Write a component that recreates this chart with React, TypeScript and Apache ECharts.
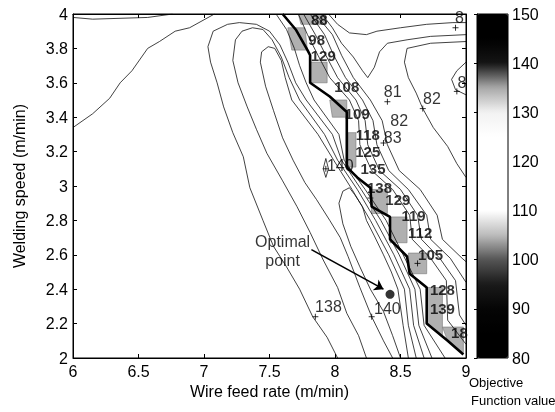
import React, { useEffect, useRef } from "react";
import * as echarts from "echarts";

type P = [number, number];

const xAxisTicks = [6, 6.5, 7, 7.5, 8, 8.5, 9];
const yAxisTicks = [2, 2.2, 2.4, 2.6, 2.8, 3, 3.2, 3.4, 3.6, 3.8, 4];
const colorbarTicks = [80, 90, 100, 110, 120, 130, 140, 150];
const colorbarColors = [
  "#000000", "#000000", "#050505", "#1a1a1a", "#555555", "#bbbbbb", "#ffffff", "#ffffff",
  "#ffffff", "#ffffff", "#f2f2f2", "#a8a8a8", "#151515", "#000000", "#000000",
];

const contourTopLeftA: P[] = [[6.0, 3.34], [6.15, 3.42], [6.28, 3.51], [6.36, 3.6], [6.45, 3.67], [6.57, 3.8], [6.66, 3.84], [6.78, 3.9], [6.89, 3.92], [7.08, 4.0]];
const contourTopLeftB: P[] = [[6.0, 3.98], [6.15, 3.97], [6.57, 3.98], [6.76, 4.0]];
const contour138: P[] = [[8.02, 2.0], [7.94, 2.12], [7.83, 2.24], [7.73, 2.4], [7.63, 2.53], [7.53, 2.65], [7.45, 2.8], [7.35, 2.99], [7.3, 3.17], [7.22, 3.31], [7.15, 3.46], [7.1, 3.6], [7.05, 3.72], [7.03, 3.81], [7.07, 3.9], [7.18, 3.94], [7.27, 3.95], [7.4, 3.94], [7.5, 3.9], [7.58, 3.82], [7.64, 3.72], [7.7, 3.6], [7.78, 3.5], [7.98, 3.3], [8.05, 3.15], [8.2, 2.98], [8.35, 2.8], [8.49, 2.6], [8.61, 2.4], [8.64, 2.19], [8.74, 2.0]];
const contourB: P[] = [[8.24, 2.0], [8.18, 2.13], [8.09, 2.26], [8.02, 2.41], [7.91, 2.57], [7.81, 2.73], [7.71, 2.88], [7.6, 3.03], [7.48, 3.19], [7.4, 3.33], [7.33, 3.46], [7.26, 3.6], [7.22, 3.73], [7.24, 3.85], [7.29, 3.9], [7.37, 3.92], [7.45, 3.91], [7.52, 3.85], [7.59, 3.75], [7.65, 3.63], [7.73, 3.5], [7.92, 3.3], [8.02, 3.15], [8.17, 2.98], [8.31, 2.8], [8.45, 2.6], [8.57, 2.4], [8.6, 2.19], [8.68, 2.0]];
const contourC: P[] = [[8.44, 2.0], [8.37, 2.1], [8.28, 2.24], [8.19, 2.41], [8.1, 2.59], [8.04, 2.7], [7.96, 2.8], [7.86, 2.92], [7.77, 3.02], [7.68, 3.15], [7.6, 3.28], [7.53, 3.44], [7.47, 3.58], [7.43, 3.72], [7.44, 3.78], [7.49, 3.81], [7.54, 3.8], [7.59, 3.73], [7.62, 3.63], [7.67, 3.5], [7.87, 3.3], [7.99, 3.15], [8.13, 2.98], [8.27, 2.8], [8.41, 2.6], [8.53, 2.4], [8.56, 2.19], [8.62, 2.0]];
const contour140: P[] = [[8.5, 2.0], [8.44, 2.13], [8.37, 2.27], [8.27, 2.4], [8.19, 2.53], [8.12, 2.65], [8.06, 2.78], [8.03, 2.9], [8.06, 2.97], [8.11, 2.99], [8.15, 2.95], [8.21, 2.88], [8.24, 2.8], [8.3, 2.71], [8.37, 2.6], [8.43, 2.5], [8.48, 2.4], [8.52, 2.19], [8.56, 2.0]];
const contourRidgeLeft: P[] = [[7.55, 4.0], [7.63, 3.91], [7.69, 3.8], [7.73, 3.7], [7.78, 3.6], [7.84, 3.5], [8.03, 3.3], [8.07, 3.15], [8.23, 2.98], [8.39, 2.8], [8.52, 2.6], [8.65, 2.4], [8.68, 2.19], [8.84, 2.0]];
const contourLoop140: P[] = [[7.93, 3.16], [7.91, 3.1], [7.93, 3.05], [7.95, 3.1], [7.93, 3.16]];
const contourR1: P[] = [[7.72, 4.0], [7.79, 3.88], [7.87, 3.76], [7.96, 3.63], [8.11, 3.5], [8.18, 3.38], [8.19, 3.24], [8.28, 3.09], [8.44, 2.98], [8.57, 2.83], [8.59, 2.69], [8.73, 2.58], [8.85, 2.45], [8.86, 2.22], [9.0, 2.08]];
const contourR2: P[] = [[7.76, 4.0], [7.85, 3.88], [7.93, 3.76], [8.02, 3.63], [8.16, 3.5], [8.23, 3.38], [8.25, 3.24], [8.34, 3.09], [8.5, 2.98], [8.63, 2.83], [8.66, 2.69], [8.8, 2.58], [8.92, 2.45], [8.95, 2.25], [9.0, 2.19]];
const contourR3: P[] = [[7.81, 4.0], [7.92, 3.88], [7.99, 3.76], [8.08, 3.63], [8.21, 3.5], [8.29, 3.38], [8.32, 3.24], [8.41, 3.09], [8.56, 2.98], [8.7, 2.83], [8.73, 2.69], [8.88, 2.58], [9.0, 2.44]];
const contourR4: P[] = [[7.85, 4.0], [7.98, 3.88], [8.05, 3.76], [8.14, 3.63], [8.27, 3.5], [8.36, 3.38], [8.4, 3.24], [8.49, 3.09], [8.65, 2.98], [8.78, 2.83], [8.82, 2.69], [8.97, 2.58], [9.0, 2.56]];
const contour81: P[] = [[7.9, 4.0], [7.98, 3.92], [8.05, 3.83], [8.14, 3.75], [8.21, 3.67], [8.25, 3.63], [8.3, 3.69], [8.34, 3.78], [8.4, 3.83], [8.55, 3.85], [8.73, 3.87], [9.0, 3.88]];
const contourTopRight: P[] = [[7.95, 4.0], [8.02, 3.94], [8.11, 3.89], [8.24, 3.88], [8.32, 3.9], [8.5, 3.92], [8.7, 3.94], [8.9, 3.95], [9.0, 3.95]];
const contour82: P[] = [[9.0, 3.84], [8.73, 3.83], [8.55, 3.8], [8.53, 3.72], [8.56, 3.63], [8.62, 3.54], [8.67, 3.45], [8.75, 3.34], [8.86, 3.23], [8.93, 3.13], [9.0, 3.05]];
const contourEdge: P[] = [[9.0, 3.72], [8.93, 3.67], [8.89, 3.62], [8.92, 3.56], [9.0, 3.53]];

const ridgeEdge: P[] = [[7.6, 4.0], [7.7, 3.91], [7.79, 3.79], [7.81, 3.76], [7.81, 3.6], [7.96, 3.52], [8.09, 3.43], [8.09, 3.11], [8.17, 3.05], [8.27, 2.99], [8.28, 2.88], [8.42, 2.82], [8.42, 2.69], [8.55, 2.59], [8.57, 2.49], [8.7, 2.41], [8.7, 2.2], [8.86, 2.1], [8.98, 2.02]];
const ridgePatches: P[][] = [
  [[7.72, 4.0], [7.93, 4.0], [7.93, 3.94], [7.74, 3.94]],
  [[7.64, 3.92], [7.77, 3.92], [7.79, 3.79], [7.67, 3.79]],
  [[7.81, 3.72], [7.94, 3.72], [7.94, 3.6], [7.81, 3.6]],
  [[7.96, 3.5], [8.09, 3.5], [8.09, 3.4], [7.98, 3.4]],
  [[8.1, 3.31], [8.16, 3.31], [8.16, 3.11], [8.1, 3.11]],
  [[8.27, 2.98], [8.4, 2.98], [8.4, 2.84], [8.28, 2.84]],
  [[8.42, 2.82], [8.55, 2.82], [8.55, 2.67], [8.42, 2.67]],
  [[8.56, 2.61], [8.7, 2.61], [8.7, 2.49], [8.57, 2.49]],
  [[8.7, 2.41], [8.82, 2.41], [8.82, 2.12], [8.7, 2.2]],
  [[8.82, 2.18], [8.98, 2.18], [8.98, 2.03], [8.86, 2.1]],
];

const boldLabels: [number, number, string][] = [
  [7.88, 3.97, "88"], [7.86, 3.85, "98"], [7.91, 3.76, "129"], [8.09, 3.58, "108"], [8.17, 3.42, "109"],
  [8.25, 3.3, "118"], [8.25, 3.2, "125"], [8.29, 3.1, "135"], [8.34, 2.99, "138"], [8.48, 2.92, "129"],
  [8.6, 2.83, "119"], [8.65, 2.73, "112"], [8.73, 2.6, "105"], [8.82, 2.4, "128"], [8.82, 2.29, "139"],
  [8.95, 2.15, "18"],
];
const plainLabels: [number, number, string][] = [
  [8.44, 3.55, "81"], [8.74, 3.51, "82"], [8.49, 3.38, "82"], [8.44, 3.28, "83"], [8.95, 3.98, "8"],
  [8.97, 3.6, "8"], [8.04, 3.12, "140"], [7.95, 2.3, "138"], [8.4, 2.29, "140"],
];
const plusMarks: P[] = [[8.4, 3.49], [8.67, 3.45], [8.92, 3.92], [8.93, 3.55], [7.85, 2.24], [8.28, 2.24], [7.93, 3.1], [8.37, 3.25], [8.27, 2.93], [8.63, 2.55]];
const optimalPoint: P = [8.42, 2.37];
const arrowStart: P = [7.82, 2.63];
const arrowEnd: P = [8.37, 2.4];
const optimalTextAt: P = [7.6, 2.62];

const FONT = "'Liberation Sans', Arial, sans-serif";

export default function App() {
  const ref = useRef<HTMLDivElement>(null);
  useEffect(() => {
    const chart = echarts.init(ref.current!, null, { renderer: "svg" });
    const contours = [contourTopLeftA, contourTopLeftB, contour138, contourB, contourC, contour140, contourRidgeLeft, contourLoop140, contourR1, contourR2, contourR3, contourR4, contour81, contourTopRight, contour82, contourEdge];
    const series: any[] = [];
    series.push({
      type: "custom",
      xAxisIndex: 0,
      yAxisIndex: 0,
      silent: true,
      clip: true,
      data: ridgePatches.map((p) => [p[0][0], p[0][1]]),
      renderItem: (params: any, api: any) => {
        const poly = ridgePatches[params.dataIndex];
        return {
          type: "polygon",
          shape: { points: poly.map((pt) => api.coord(pt)) },
          style: { fill: "#b0b0b0", stroke: "#777", lineWidth: 0.6 },
        };
      },
      z: 1,
    });
    contours.forEach((c) => {
      series.push({
        type: "line",
        xAxisIndex: 0,
        yAxisIndex: 0,
        data: c,
        showSymbol: false,
        silent: true,
        lineStyle: { color: "#111", width: 0.8 },
        z: 2,
      });
    });
    series.push({
      type: "line",
      xAxisIndex: 0,
      yAxisIndex: 0,
      data: ridgeEdge,
      showSymbol: false,
      silent: true,
      lineStyle: { color: "#000", width: 2.6 },
      z: 3,
    });
    series.push({
      type: "scatter",
      xAxisIndex: 0,
      yAxisIndex: 0,
      data: plusMarks,
      symbol: "path://M5,0L5,10M0,5L10,5",
      symbolSize: 6,
      itemStyle: { color: "none", borderColor: "#000", borderWidth: 1 },
      silent: true,
      z: 4,
    });
    series.push({
      type: "scatter",
      xAxisIndex: 0,
      yAxisIndex: 0,
      data: boldLabels.map(([x, y, t]) => ({ value: [x, y], name: t })),
      symbolSize: 1,
      itemStyle: { color: "transparent" },
      silent: true,
      label: { show: true, position: "inside", formatter: "{b}", fontSize: 15, fontWeight: "bold", color: "#000", fontFamily: FONT },
      z: 5,
    });
    series.push({
      type: "scatter",
      xAxisIndex: 0,
      yAxisIndex: 0,
      data: plainLabels.map(([x, y, t]) => ({ value: [x, y], name: t })),
      symbolSize: 1,
      itemStyle: { color: "transparent" },
      silent: true,
      label: { show: true, position: "inside", formatter: "{b}", fontSize: 16, color: "#000", fontFamily: FONT },
      z: 5,
    });
    series.push({
      type: "scatter",
      xAxisIndex: 0,
      yAxisIndex: 0,
      data: [optimalPoint],
      symbol: "circle",
      symbolSize: 9,
      itemStyle: { color: "#000" },
      silent: true,
      markLine: {
        silent: true,
        symbol: ["none", "arrow"],
        symbolSize: 9,
        label: { show: false },
        lineStyle: { color: "#000", width: 1.5, type: "solid" },
        data: [[{ coord: arrowStart }, { coord: arrowEnd }]],
      },
      z: 6,
    });
    series.push({
      type: "scatter",
      xAxisIndex: 0,
      yAxisIndex: 0,
      data: [{ value: optimalTextAt, name: "Optimal\npoint" }],
      symbolSize: 1,
      itemStyle: { color: "transparent" },
      silent: true,
      label: { show: true, position: "inside", formatter: "{b}", fontSize: 16, lineHeight: 19, align: "center", color: "#000", fontFamily: FONT },
      z: 6,
    });
    const dummyIndex = series.length;
    series.push({ type: "scatter", xAxisIndex: 2, yAxisIndex: 2, data: [], silent: true });

    const option: any = {
      animation: false,
      textStyle: { fontFamily: FONT },
      grid: [
        { left: 73, right: 89, top: 14, bottom: 54, show: true, borderColor: "#000", borderWidth: 1, z: 10, backgroundColor: "transparent" },
        { left: 477, width: 31, top: 14, bottom: 54, show: true, borderColor: "#000", borderWidth: 1, z: 10, backgroundColor: "transparent" },
      ],
      xAxis: [
        {
          gridIndex: 0, type: "value", position: "bottom",
          min: xAxisTicks[0], max: xAxisTicks[xAxisTicks.length - 1], interval: xAxisTicks[1] - xAxisTicks[0],
          axisLine: { lineStyle: { color: "#000" } },
          axisTick: { inside: true, length: 4, lineStyle: { color: "#000" } },
          axisLabel: { fontSize: 16, color: "#000", margin: 5, fontFamily: FONT },
          splitLine: { show: false },
          name: "Wire feed rate (m/min)", nameLocation: "middle", nameGap: 21,
          nameTextStyle: { fontSize: 16, color: "#000", fontFamily: FONT },
          z: 10,
        },
        {
          gridIndex: 0, type: "value", position: "top",
          min: xAxisTicks[0], max: xAxisTicks[xAxisTicks.length - 1], interval: xAxisTicks[1] - xAxisTicks[0],
          axisLine: { lineStyle: { color: "#000" } },
          axisTick: { inside: true, length: 4, lineStyle: { color: "#000" } },
          axisLabel: { show: false },
          splitLine: { show: false },
          z: 10,
        },
        { gridIndex: 1, type: "value", min: 0, max: 1, show: false },
      ],
      yAxis: [
        {
          gridIndex: 0, type: "value", position: "left",
          min: yAxisTicks[0], max: yAxisTicks[yAxisTicks.length - 1], interval: 0.2,
          axisLine: { lineStyle: { color: "#000" } },
          axisTick: { inside: true, length: 4, lineStyle: { color: "#000" } },
          axisLabel: { fontSize: 16, color: "#000", margin: 5, fontFamily: FONT },
          splitLine: { show: false },
          name: "Welding speed (m/min)", nameLocation: "middle", nameGap: 46,
          nameTextStyle: { fontSize: 16, color: "#000", fontFamily: FONT },
          z: 10,
        },
        {
          gridIndex: 0, type: "value", position: "right",
          min: yAxisTicks[0], max: yAxisTicks[yAxisTicks.length - 1], interval: 0.2,
          axisLine: { lineStyle: { color: "#000" } },
          axisTick: { inside: true, length: 4, lineStyle: { color: "#000" } },
          axisLabel: { show: false },
          splitLine: { show: false },
          z: 10,
        },
        {
          gridIndex: 1, type: "value", position: "right",
          min: colorbarTicks[0], max: colorbarTicks[colorbarTicks.length - 1], interval: 10,
          axisLine: { show: true, lineStyle: { color: "#000" } },
          axisTick: { inside: true, length: 3, lineStyle: { color: "#000" } },
          axisLabel: { fontSize: 16, color: "#000", margin: 4, fontFamily: FONT },
          splitLine: { show: false },
          z: 10,
        },
      ],
      visualMap: {
        type: "continuous",
        min: colorbarTicks[0],
        max: colorbarTicks[colorbarTicks.length - 1],
        seriesIndex: dummyIndex,
        orient: "vertical",
        left: 477,
        top: 14,
        itemWidth: 31,
        itemHeight: 344,
        padding: 0,
        calculable: false,
        inRange: { color: colorbarColors },
        z: 1,
      },
      graphic: [
        { type: "text", left: 469, top: 376, style: { text: "Objective", font: "13px " + FONT, fill: "#000" } },
        { type: "text", left: 471, top: 394, style: { text: "Function value", font: "13px " + FONT, fill: "#000" } },
      ],
      series,
    };
    chart.setOption(option);
    return () => chart.dispose();
  }, []);
  return <div ref={ref} style={{ position: "fixed", left: 0, top: 0, width: 555, height: 412 }} />;
}
